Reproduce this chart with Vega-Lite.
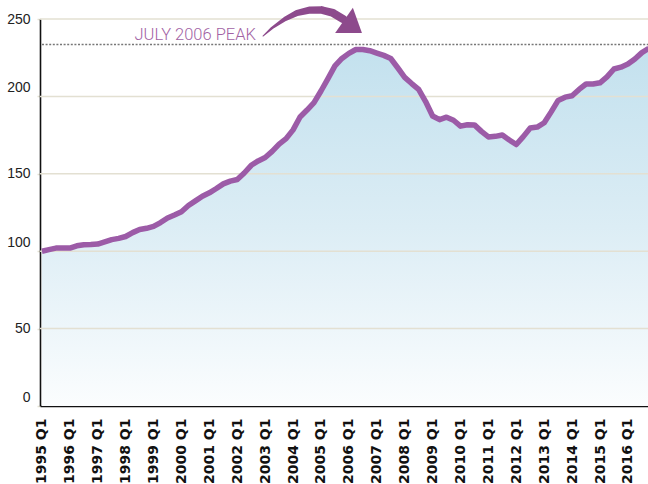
{
  "$schema": "https://vega.github.io/schema/vega-lite/v6.json",
  "width": 608,
  "height": 387,
  "autosize": "none",
  "padding": {"left": 40, "top": 19, "right": 0, "bottom": 78},
  "background": "white",
  "config": {"view": {"stroke": null}, "axis": {"labelOverlap": false, "labelBound": false}},
  "encoding": {
    "x": {
      "field": "t", "type": "quantitative",
      "scale": {"domain": [1994.93, 2016.72], "nice": false, "zero": false},
      "axis": {
        "title": null,
        "values": [1995, 1996, 1997, 1998, 1999, 2000, 2001, 2002, 2003, 2004, 2005, 2006, 2007, 2008, 2009, 2010, 2011, 2012, 2013, 2014, 2015, 2016],
        "labelExpr": "datum.value + ' Q1'",
        "labelAngle": -90,
        "labelFont": "DejaVu Sans",
        "labelFontWeight": "bold",
        "labelFontSize": 14,
        "labelColor": "#111111",
        "labelPadding": 12,
        "labelFlush": false,
        "labelOverlap": {"expr": "false"},
        "labelSeparation": 0,
        "ticks": false,
        "grid": false,
        "domainColor": "#111111",
        "domainWidth": 1.6
      }
    },
    "y": {
      "field": "v", "type": "quantitative",
      "scale": {"domain": [0, 250], "nice": false},
      "axis": {
        "title": null,
        "values": [0, 50, 100, 150, 200, 250],
        "grid": false,
        "labelFont": "Liberation Sans",
        "labelFontSize": 14,
        "labelColor": "#222222",
        "labelPadding": 7,
        "labelOffset": {"condition": {"test": "datum.value % 100 === 0", "value": -9}, "value": 0},
        "tickColor": "#e3e0d2",
        "tickSize": 3,
        "tickWidth": 1.5,
        "domainColor": "#111111",
        "domainWidth": 1.6
      }
    }
  },
  "layer": [
    {
      "data": {"name": "hpi"},
      "mark": {
        "type": "area",
        "clip": true,
        "color": {
          "gradient": "linear",
          "x1": 0, "y1": 0, "x2": 0, "y2": 1,
          "stops": [
            {"offset": 0, "color": "#c3e1ee"},
            {"offset": 0.5, "color": "#dcedf5"},
            {"offset": 1, "color": "#fbfdfe"}
          ]
        }
      }
    },
    {
      "data": {"values": [{"v": 50}, {"v": 100}, {"v": 150}, {"v": 200}, {"v": 250}]},
      "mark": {"type": "rule", "color": "#e3e0d2", "strokeWidth": 1.5},
      "encoding": {"x": {"value": 0}, "x2": {"value": 608}}
    },
    {
      "data": {"name": "hpi"},
      "mark": {"type": "line", "clip": true, "color": "#9c5ba7", "strokeWidth": 5.5, "strokeJoin": "round"}
    },
    {
      "data": {"values": [{"v": 233.5}]},
      "mark": {"type": "rule", "color": "#777777", "strokeWidth": 1.5, "strokeDash": [2, 1.6]},
      "encoding": {"x": {"value": 2}, "x2": {"value": 608}}
    },
    {
      "data": {"values": [{"t": 2002.67, "v": 236.4, "label": "JULY 2006 PEAK"}]},
      "mark": {"type": "text", "align": "right", "baseline": "alphabetic", "font": "Roboto", "fontWeight": 300, "fontSize": 16.5, "color": "#a262a4"},
      "encoding": {"text": {"field": "label"}}
    },
    {
      "data": {"values": [
        {"t": 2002.921, "v": 239.0, "w": 1},
        {"t": 2003.244, "v": 244.2, "w": 2.5},
        {"t": 2003.710, "v": 250.0, "w": 4.5},
        {"t": 2004.140, "v": 253.9, "w": 6},
        {"t": 2004.606, "v": 255.8, "w": 7},
        {"t": 2005.036, "v": 255.8, "w": 7.5},
        {"t": 2005.430, "v": 253.9, "w": 8},
        {"t": 2005.789, "v": 250.0, "w": 8}
      ]},
      "mark": {"type": "trail", "color": "#8d4a8c"},
      "encoding": {
        "size": {"field": "w", "type": "quantitative", "scale": null, "legend": null}
      }
    },
    {
      "data": {"values": [{"t": 2006.147, "v": 245.0}]},
      "mark": {"type": "point", "shape": "M -0.73 -1.03 L 0.73 0 L -0.73 1.03 Z", "size": 900, "angle": 35, "filled": true, "fill": "#8d4a8c", "strokeWidth": 0, "opacity": 1}
    }
  ],
  "datasets": {
    "hpi": [
      {"t": 1995, "v": 100}, {"t": 1995.25, "v": 101}, {"t": 1995.5, "v": 102}, {"t": 1995.75, "v": 102},
      {"t": 1996, "v": 102}, {"t": 1996.25, "v": 103.5}, {"t": 1996.5, "v": 104.2}, {"t": 1996.75, "v": 104.3},
      {"t": 1997, "v": 104.6}, {"t": 1997.25, "v": 106}, {"t": 1997.5, "v": 107.5}, {"t": 1997.75, "v": 108.3},
      {"t": 1998, "v": 109.5}, {"t": 1998.25, "v": 112}, {"t": 1998.5, "v": 114}, {"t": 1998.75, "v": 114.8},
      {"t": 1999, "v": 116}, {"t": 1999.25, "v": 118.5}, {"t": 1999.5, "v": 121.5}, {"t": 1999.75, "v": 123.4},
      {"t": 2000, "v": 125.5}, {"t": 2000.25, "v": 129.5}, {"t": 2000.5, "v": 132.5}, {"t": 2000.75, "v": 135.5},
      {"t": 2001, "v": 137.7}, {"t": 2001.25, "v": 140.5}, {"t": 2001.5, "v": 143.5}, {"t": 2001.75, "v": 145.3},
      {"t": 2002, "v": 146.3}, {"t": 2002.25, "v": 150.5}, {"t": 2002.5, "v": 155.5}, {"t": 2002.75, "v": 158.3},
      {"t": 2003, "v": 160.5}, {"t": 2003.25, "v": 164.5}, {"t": 2003.5, "v": 169.2}, {"t": 2003.75, "v": 172.7},
      {"t": 2004, "v": 178.4}, {"t": 2004.25, "v": 186.7}, {"t": 2004.5, "v": 191.2}, {"t": 2004.75, "v": 196},
      {"t": 2005, "v": 203.5}, {"t": 2005.25, "v": 211.5}, {"t": 2005.5, "v": 219.7}, {"t": 2005.75, "v": 224.5},
      {"t": 2006, "v": 227.8}, {"t": 2006.25, "v": 230.3}, {"t": 2006.5, "v": 230.3}, {"t": 2006.75, "v": 229.5},
      {"t": 2007, "v": 228}, {"t": 2007.25, "v": 226.5}, {"t": 2007.5, "v": 224.5}, {"t": 2007.75, "v": 218.5},
      {"t": 2008, "v": 212.3}, {"t": 2008.25, "v": 208.3}, {"t": 2008.5, "v": 204.5}, {"t": 2008.75, "v": 196.7},
      {"t": 2009, "v": 187.3}, {"t": 2009.25, "v": 185}, {"t": 2009.5, "v": 186.6}, {"t": 2009.75, "v": 184.6},
      {"t": 2010, "v": 180.8}, {"t": 2010.25, "v": 181.7}, {"t": 2010.5, "v": 181.6}, {"t": 2010.75, "v": 177.4},
      {"t": 2011, "v": 173.8}, {"t": 2011.25, "v": 174.2}, {"t": 2011.5, "v": 175.1}, {"t": 2011.75, "v": 171.8},
      {"t": 2012, "v": 168.9}, {"t": 2012.25, "v": 174}, {"t": 2012.5, "v": 179.6}, {"t": 2012.75, "v": 180.2},
      {"t": 2013, "v": 183}, {"t": 2013.25, "v": 190}, {"t": 2013.5, "v": 197.4}, {"t": 2013.75, "v": 199.5},
      {"t": 2014, "v": 200.4}, {"t": 2014.25, "v": 204.5}, {"t": 2014.5, "v": 208}, {"t": 2014.75, "v": 208},
      {"t": 2015, "v": 208.8}, {"t": 2015.25, "v": 212.6}, {"t": 2015.5, "v": 217.7}, {"t": 2015.75, "v": 218.9},
      {"t": 2016, "v": 220.9}, {"t": 2016.25, "v": 224.2}, {"t": 2016.5, "v": 228.3}, {"t": 2016.75, "v": 231}
    ]
  }
}
